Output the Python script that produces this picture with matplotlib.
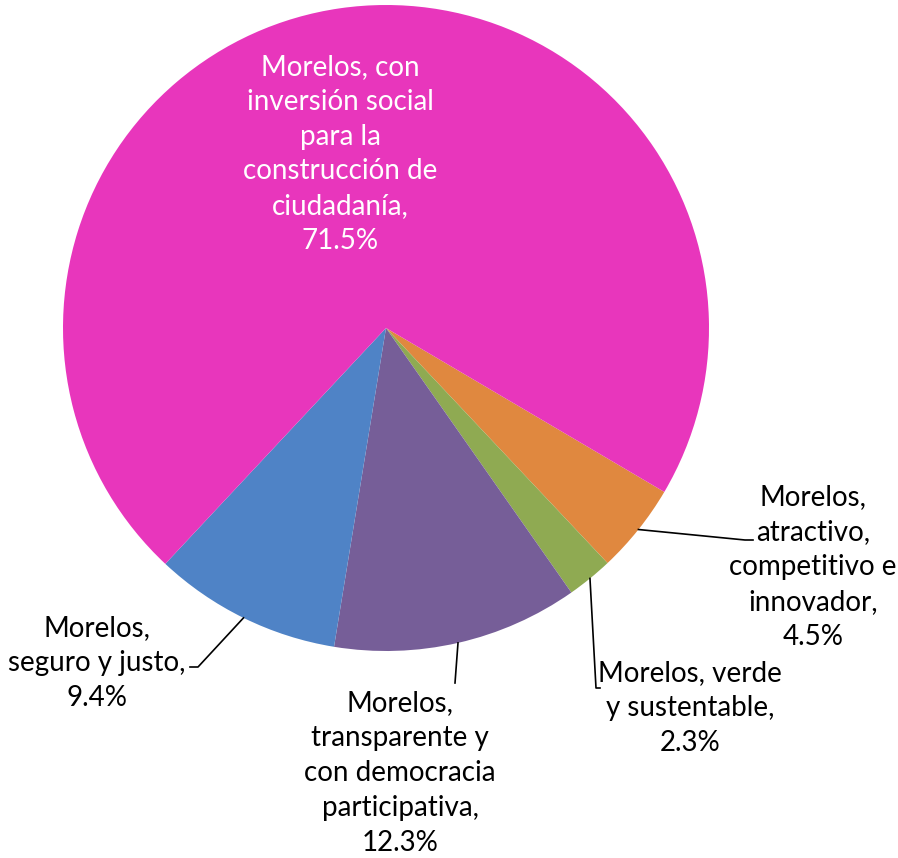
import numpy as np
import matplotlib
matplotlib.use("Agg")
import matplotlib.pyplot as plt

plt.rcParams["font.family"] = ["Lato", "DejaVu Sans"]

# data, clockwise from the lower right
labels = [
    "Morelos,\natractivo,\ncompetitivo e\ninnovador",
    "Morelos, verde\ny sustentable",
    "Morelos,\ntransparente y\ncon democracia\nparticipativa",
    "Morelos,\nseguro y justo",
    "Morelos, con\ninversión social\npara la\nconstrucción de\nciudadanía",
]
values = [4.5, 2.3, 12.3, 9.4, 71.5]
colors = ["#E0883F", "#8FAA52", "#765E98", "#4F83C6", "#E836BC"]

fig = plt.figure(figsize=(8.98, 8.58), dpi=100)
ax = fig.add_axes([0, 0, 1, 1])

wedges, _ = ax.pie(values, colors=colors, startangle=-30.5, counterclock=False,
                   radius=1.0, wedgeprops=dict(linewidth=0))

r_px = 323
cx, cy = 386, 328
ax.set_xlim(-cx / r_px, (898 - cx) / r_px)
ax.set_ylim(-(858 - cy) / r_px, cy / r_px)
ax.set_aspect("auto")
ax.axis("off")

def px(x, y):
    return (x - cx) / r_px, (cy - y) / r_px

# label text centres and leader elbows (pixel positions)
text_pos = [(813, 567), (690, 708), (400, 773), (97, 663), (340, 154)]
elbows = [[(745, 540), (753, 540)],
          [(596, 688), (600, 688)],
          [(455, 683)],
          [(198, 667), (190, 667)],
          None]

for w, lab, v, tp, el in zip(wedges, labels, values, text_pos, elbows):
    txt = f"{lab},\n{v}%"
    tx, ty = px(*tp)
    col = "white" if el is None else "black"
    ax.text(tx, ty, txt, ha="center", va="center", fontsize=20,
            color=col, linespacing=1.42)
    if el is not None:
        mid = np.deg2rad((w.theta1 + w.theta2) / 2)
        xs = [np.cos(mid)]
        ys = [np.sin(mid)]
        for p in el:
            a, b = px(*p)
            xs.append(a)
            ys.append(b)
        ax.plot(xs, ys, color="black", lw=1.2)

fig.savefig("out.png", dpi=100, facecolor="white")
